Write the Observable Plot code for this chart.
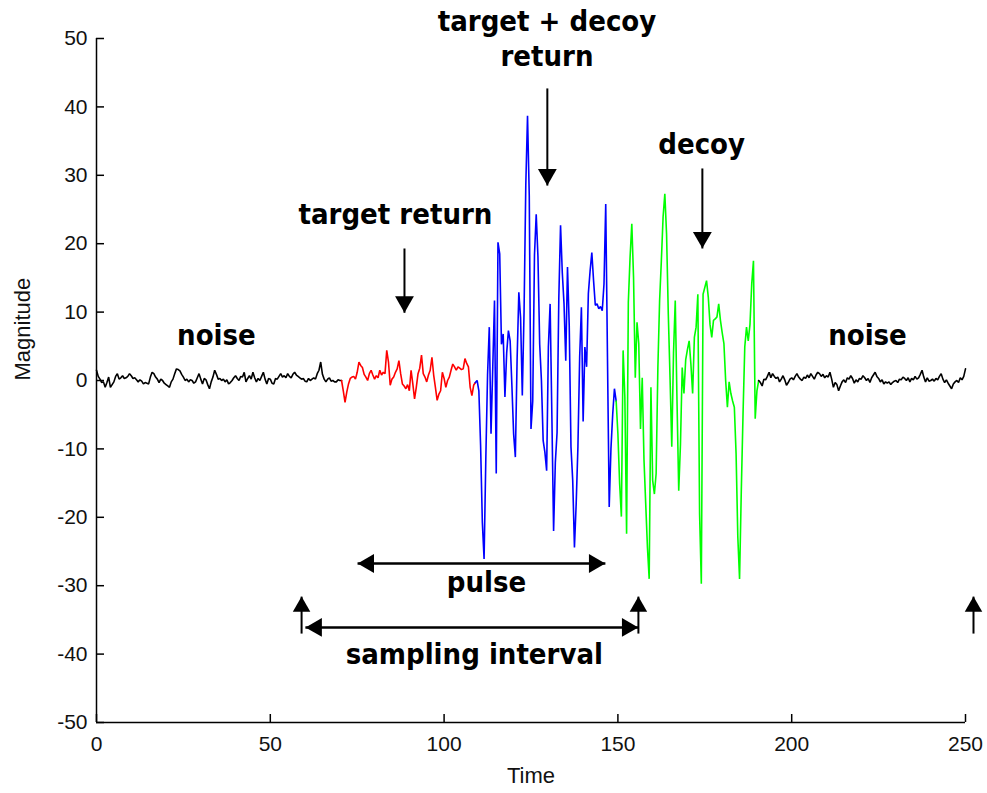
<!DOCTYPE html>
<html><head><meta charset="utf-8">
<script src="https://cdn.jsdelivr.net/npm/d3@7"></script>
<script src="https://cdn.jsdelivr.net/npm/@observablehq/plot@0.6"></script>
<style>body{margin:0;background:#fff}</style>
</head><body><div id="chart"></div>
<script>
// sampling step of the signal (time units)
const dt = 0.5;

// noise before the pulse, t = 0 ... 70
const noiseLeft = [
 1.5,0.6,0.2,-0.3,-0.2,-1.0,-0.3,0.5,-1.0,-0.6,
 -0.2,0.6,1.0,0.2,0.4,0.7,0.3,0.4,0.6,1.0,
 0.7,0.3,0.4,0.1,-0.2,0.1,-0.1,-0.5,-0.3,-0.4,
 -0.5,0.5,1.2,1.0,0.5,0.2,-0.3,0.2,0.0,-0.4,
 -0.6,-0.8,-1.0,-0.2,0.2,1.0,1.7,1.6,1.4,0.9,
 0.5,0.0,0.2,-0.2,0.1,0.0,-0.4,-0.2,0.4,1.0,
 0.2,-0.5,0.3,0.1,-0.6,-1.2,-0.2,0.5,1.5,0.9,
 0.2,0.3,0.0,0.2,-0.2,0.1,-0.5,-0.3,0.0,0.4,
 0.7,0.3,0.0,0.6,0.5,1.2,-0.2,0.3,0.7,0.2,
 1.2,0.4,-0.2,0.3,0.0,0.6,1.2,0.2,-0.5,0.3,
 0.2,-0.4,-0.5,0.3,0.2,0.6,1.0,0.5,0.7,0.4,
 1.0,0.6,0.4,0.9,1.2,0.8,0.6,0.4,0.2,0.3,
 -0.1,-0.2,0.3,0.0,0.2,0.4,0.2,1.0,1.5,2.7,
 0.9,0.2,-0.2,0.2,0.4,-0.1,0.0,-0.2,-0.2,0.1,
 0.0
];
// target return, t = 70.5 ... 108.5
const targetReturn = [
 0.0,-1.5,-3.2,-1.7,-0.5,0.3,0.5,0.6,0.2,1.2,
 2.7,2.2,1.9,0.9,0.5,0.0,1.0,1.5,0.8,0.2,
 0.7,0.4,1.5,0.8,1.2,1.0,4.4,2.7,-0.7,0.2,
 0.5,1.2,1.7,2.9,1.0,-0.5,-0.8,-1.2,-0.6,-1.5,
 1.5,-0.5,-2.7,-1.0,1.0,1.8,3.7,1.0,0.5,-0.2,
 0.8,1.5,3.4,0.8,-1.0,-2.9,-2.0,-1.5,1.2,0.3,
 -1.0,0.0,0.5,1.5,2.4,2.0,1.5,2.0,1.8,1.6,
 1.7,3.2,2.5,2.0,-1.0,-2.2,-0.7
];
// target + decoy return, t = 109 ... 149
const targetDecoyReturn = [
 -0.3,0.0,-1.5,-9.5,-20.7,-26.1,-11.5,0.8,7.8,-7.8,
 1.9,11.7,-13.6,20.2,18.5,5.3,6.8,-2.4,4.0,7.3,
 5.8,-0.7,-7.8,-11.2,3.0,12.9,9.2,-2.2,10.0,28.5,
 38.7,27.0,-7.1,-3.0,18.3,24.3,18.1,5.3,0.0,-8.8,
 -10.5,-13.2,4.9,11.2,-5.0,-22.0,-12.0,-7.6,12.0,22.7,
 15.8,11.2,2.9,16.6,8.0,-9.7,-14.6,-24.4,-18.0,-9.7,
 3.4,10.7,-6.0,4.9,2.0,12.7,16.0,18.7,14.6,11.0,
 11.2,10.5,10.8,10.2,14.1,25.8,3.4,-18.5,-10.0,-5.0,
 -1.2
];
// decoy return, t = 149.5 ... 190
const decoyReturn = [
 -3.0,-7.8,-15.1,-19.9,4.4,-2.4,-22.4,11.4,18.0,22.9,
 15.1,0.4,8.5,5.4,-7.1,0.4,-11.5,-18.0,-24.4,-29.0,
 -1.0,-14.6,-16.6,-13.6,1.9,11.7,17.5,23.9,27.3,21.4,
 9.7,0.4,-9.7,4.0,11.7,-2.9,-16.1,-9.3,1.9,-1.9,
 3.0,4.5,5.8,2.4,-1.9,6.3,7.8,12.6,-19.5,-29.7,
 12.6,13.6,14.6,12.2,8.2,6.3,8.8,9.0,9.3,11.2,
 8.8,7.0,5.4,0.0,-3.9,-0.2,-1.9,-3.0,-3.9,-10.7,
 -22.9,-29.0,-16.1,-4.9,4.9,7.8,5.8,8.2,14.1,17.5,
 -5.6,-1.5
];
// noise after the pulse, t = 190.5 ... 250
const noiseRight = [
 0.0,-0.3,-0.8,0.2,0.1,0.6,1.2,0.4,1.0,0.6,
 0.3,0.5,-0.2,0.2,0.7,0.1,-0.7,-0.3,0.2,0.4,
 0.1,0.6,1.0,0.5,0.2,0.0,0.5,0.3,0.8,0.4,
 1.0,0.6,0.2,0.8,1.2,1.0,0.6,0.9,0.4,0.7,
 0.5,1.2,0.2,-1.0,-0.3,-0.6,-1.5,-0.8,-0.2,0.1,
 -0.3,0.4,0.2,0.7,0.3,-0.4,0.1,-0.2,0.3,0.2,
 0.7,0.4,0.0,0.3,-0.3,0.4,0.8,1.2,0.6,0.3,
 -0.2,0.1,-0.5,-0.2,-0.4,-0.2,-0.6,-0.3,-0.1,0.0,
 -0.3,0.2,0.1,0.5,0.3,0.0,0.4,-0.2,0.3,0.1,
 0.6,0.2,0.4,0.9,1.5,0.5,-0.2,0.4,-0.1,0.0,
 0.2,-0.1,0.3,0.1,0.6,1.0,0.2,-0.3,0.1,-0.4,
 -0.8,-1.2,-0.5,-0.2,0.0,-0.3,0.4,0.1,0.6,1.7
];

const segments = [
  {name: "noiseLeft", start: 0, values: noiseLeft},
  {name: "targetReturn", start: 70.5, values: targetReturn},
  {name: "targetDecoyReturn", start: 109, values: targetDecoyReturn},
  {name: "decoyReturn", start: 149.5, values: decoyReturn},
  {name: "noiseRight", start: 190.5, values: noiseRight}
];
const segmentColor = {
  noiseLeft: "#000000", targetReturn: "#ff0000",
  targetDecoyReturn: "#0000ff", decoyReturn: "#00ff00", noiseRight: "#000000"
};

const xTicks = [0, 50, 100, 150, 200, 250];
const yTicks = [-50, -40, -30, -20, -10, 0, 10, 20, 30, 40, 50];

// annotation texts (data coordinates of their centres)
const labels = [
  {t: 34.5, v: 6.6, text: "noise"},
  {t: 86.0, v: 24.3, text: "target return"},
  {t: 129.6, v: 52.5, text: "target + decoy"},
  {t: 129.6, v: 47.4, text: "return"},
  {t: 174.1, v: 34.4, text: "decoy"},
  {t: 221.8, v: 6.6, text: "noise"},
  {t: 112.2, v: -29.5, text: "pulse"},
  {t: 108.7, v: -40.1, text: "sampling interval"}
];
// arrows (from -> tip)
const downArrows = [
  {t: 129.7, from: 42.7, to: 28.5},
  {t: 174.3, from: 31.0, to: 19.3},
  {t: 88.6, from: 19.3, to: 9.9}
];
const upArrows = [
  {t: 59.0, from: -37.0, to: -31.6},
  {t: 155.9, from: -37.0, to: -31.6},
  {t: 252.3, from: -37.0, to: -31.6}
];
const pulseArrow = {v: -26.75, t1: 75.1, t2: 146.4};
const samplingArrow = {v: -36.1, t1: 60.1, t2: 155.9};

// build line data
const points = [];
segments.forEach((s, i) => {
  s.values.forEach((v, j) => points.push({t: s.start + j * dt, v, seg: s.name}));
  const next = segments[i + 1];
  if (next) points.push({t: next.start, v: next.values[0], seg: s.name});
});

const W = 987, H = 793, mL = 96, mR = 22, mT = 38, mB = 71;
const tickLen = 8;
const axisFont = "'Liberation Sans', Arial, sans-serif";
const annFont = "'DejaVu Sans Condensed', 'DejaVu Sans', Verdana, sans-serif";

const hArrows = [
  {...pulseArrow, dash: null},
  {...samplingArrow, dash: "9,5"}
];

const chart = Plot.plot({
  width: W, height: H,
  marginLeft: mL, marginRight: mR, marginTop: mT, marginBottom: mB,
  x: {domain: [0, 250]},
  y: {domain: [-50, 50]},
  style: {fontFamily: axisFont, background: "#fff", overflow: "visible"},
  marks: [
    Plot.line(points, {x: "t", y: "v", z: "seg", stroke: d => segmentColor[d.seg], strokeWidth: 1.6, strokeLinejoin: "miter"}),
    Plot.ruleX([0], {stroke: "#000", strokeWidth: 1.5}),
    Plot.ruleY([-50], {stroke: "#000", strokeWidth: 1.5}),
    Plot.tickY(yTicks, {y: d => d, insetRight: (W - mL - mR) - tickLen, stroke: "#000", strokeWidth: 1.5}),
    Plot.tickX(xTicks, {x: d => d, insetTop: (H - mT - mB) - tickLen, stroke: "#000", strokeWidth: 1.5}),
    Plot.axisY(yTicks, {tickSize: 0, tickPadding: 9, fontSize: 21, label: null, fill: "#111", tickFormat: d => String(d)}),
    Plot.axisX(xTicks, {tickSize: 0, tickPadding: 14, fontSize: 21, label: null, fill: "#111", tickFormat: d => String(d)}),
    Plot.text(["Time"], {frameAnchor: "bottom", dy: 60, text: d => d, fontSize: 22, fill: "#111"}),
    Plot.text(["Magnitude"], {frameAnchor: "left", dx: -74, rotate: -90, text: d => d, fontSize: 22, fill: "#111"}),
    // annotation texts
    Plot.text(labels, {x: "t", y: "v", text: "text", fontFamily: annFont, fontWeight: "bold", fontSize: 29, fill: "#000"}),
    // vertical arrows
    Plot.link(downArrows, {x1: "t", x2: "t", y1: "from", y2: "to", stroke: "#000", strokeWidth: 2}),
    Plot.dot(downArrows, {x: "t", y: "to", symbol: "triangle", r: 7, fill: "#000", stroke: null, rotate: 180, dy: -11}),
    Plot.link(upArrows, {x1: "t", x2: "t", y1: "from", y2: "to", stroke: "#000", strokeWidth: 2}),
    Plot.dot(upArrows, {x: "t", y: "to", symbol: "triangle", r: 6.5, fill: "#000", stroke: null, dy: 10}),
    // horizontal double arrows
    Plot.link(hArrows, {x1: "t1", x2: "t2", y1: "v", y2: "v", stroke: "#000", strokeWidth: 2.5, strokeDasharray: d => d.dash}),
    Plot.dot(hArrows, {x: "t1", y: "v", symbol: "triangle", r: 7, fill: "#000", stroke: null, rotate: 270, dx: 11}),
    Plot.dot(hArrows, {x: "t2", y: "v", symbol: "triangle", r: 7, fill: "#000", stroke: null, rotate: 90, dx: -11})
  ]
});
document.getElementById("chart").appendChild(chart);
</script>
</body></html>
